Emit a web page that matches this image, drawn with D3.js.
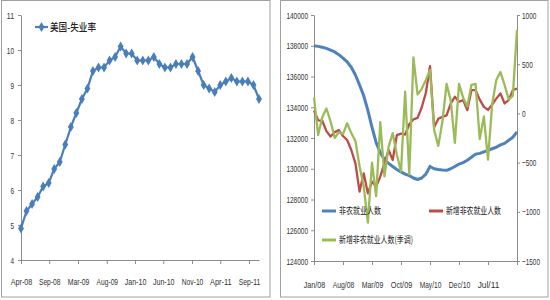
<!DOCTYPE html>
<html>
<head>
<meta charset="utf-8">
<script src="https://d3js.org/d3.v7.min.js"></script>
<style>
  body { margin: 0; background: #fff; }
  text { font-family: "Liberation Sans", "DejaVu Sans", sans-serif; }
  .cjk { font-family: "Noto Sans CJK SC", sans-serif; }
</style>
</head>
<body>
<svg id="chart" width="550" height="300"></svg>
<script>
// ---- left panel: US unemployment rate, Apr-08 .. Nov-11
var rateMonths = ["2008-04","2008-05","2008-06","2008-07","2008-08","2008-09","2008-10","2008-11","2008-12",
  "2009-01","2009-02","2009-03","2009-04","2009-05","2009-06","2009-07","2009-08","2009-09","2009-10","2009-11","2009-12",
  "2010-01","2010-02","2010-03","2010-04","2010-05","2010-06","2010-07","2010-08","2010-09","2010-10","2010-11","2010-12",
  "2011-01","2011-02","2011-03","2011-04","2011-05","2011-06","2011-07","2011-08","2011-09","2011-10","2011-11"];
var rateValues = [4.9,5.4,5.6,5.8,6.1,6.2,6.6,6.8,7.3,
  7.8,8.2,8.6,8.9,9.4,9.5,9.5,9.7,9.8,10.1,9.9,9.9,
  9.7,9.7,9.7,9.8,9.6,9.5,9.5,9.6,9.6,9.6,9.8,9.4,
  9.0,8.9,8.8,9.0,9.1,9.2,9.1,9.1,9.1,9.0,8.6];
var rateTickLabels = ["Apr-08","Sep-08","Mar-09","Aug-09","Jan-10","Jun-10","Nov-10","Apr-11","Sep-11"];
var rateTickAt = [0, 5.1, 10.3, 15.5, 20.6, 25.7, 30.9, 36, 41.2]; // month index
var rateYTicks = [4,5,6,7,8,9,10,11];
var rateName = "美国-失业率";

// ---- right panel: nonfarm payrolls, Jan/08 .. Feb/12
var nfpMonths = ["2008-01","2008-02","2008-03","2008-04","2008-05","2008-06","2008-07","2008-08","2008-09","2008-10","2008-11","2008-12",
  "2009-01","2009-02","2009-03","2009-04","2009-05","2009-06","2009-07","2009-08","2009-09","2009-10","2009-11","2009-12",
  "2010-01","2010-02","2010-03","2010-04","2010-05","2010-06","2010-07","2010-08","2010-09","2010-10","2010-11","2010-12",
  "2011-01","2011-02","2011-03","2011-04","2011-05","2011-06","2011-07","2011-08","2011-09","2011-10","2011-11","2011-12",
  "2012-01","2012-02"];
var nfpTotal = [138000,137960,137900,137830,137720,137600,137420,137200,136950,136600,136100,135450,
  134750,133800,132700,131700,131050,130600,130350,130150,129950,129800,129650,129550,
  129400,129300,129400,129650,130150,130000,129950,129920,129900,130000,130150,130300,
  130400,130550,130750,130950,131000,131100,131200,131300,131400,131550,131650,131850,
  132050,132400];
var nfpChange = [30,-70,-75,-180,-235,-190,-170,-230,-270,-372,-507,-795,
  -609,-812,-693,-744,-643,-507,-372,-473,-220,-205,-215,-110,
  -60,-45,60,210,480,-140,-55,-35,-20,100,169,118,
  135,33,236,236,140,67,35,90,150,203,101,135,
  236,253];
var nfpChangeSA = [160,-220,-40,50,-80,-250,-190,-210,-100,-200,-280,-540,
  -740,-1110,-500,-840,-90,-640,-340,-200,-420,-590,220,-620,
  570,190,250,340,440,-170,-330,-80,300,130,-300,300,
  160,70,290,300,-260,-30,-470,90,340,420,290,140,
  180,850];
var nfpTickLabels = ["Jan/08","Aug/08","Mar/09","Oct/09","May/10","Dec/10","Jul/11"];
var nfpTickAt = [0, 7, 14, 21, 28, 35, 42, 49];
var leftTicks = [124000,126000,128000,130000,132000,134000,136000,138000,140000];
var rightTicks = [-1500,-1000,-500,0,500,1000];
var nfpNames = ["非农就业人数", "新增非农就业人数", "新增非农就业人数(季调)"];

var axisColor = "#8c8c8c", textColor = "#333";
var svg = d3.select("#chart");

// panel frames
svg.append("rect").attr("x", 1.5).attr("y", 0.5).attr("width", 268.5).attr("height", 296.5)
  .attr("fill", "none").attr("stroke", "#a0a0a0");
svg.append("rect").attr("x", 280.5).attr("y", 0.5).attr("width", 267.5).attr("height", 296.5)
  .attr("fill", "none").attr("stroke", "#a0a0a0");

// excel-ish condensed labels: squeeze every label to about 3.6px per character
function styleAxis(g) {
  g.select(".domain").attr("stroke", axisColor);
  g.selectAll(".tick line").attr("stroke", axisColor);
  g.selectAll(".tick text").attr("fill", textColor).attr("font-size", 9.5)
    .each(function () {
      var t = d3.select(this), s = t.text();
      if (s.length) t.attr("textLength", s.length * 3.6).attr("lengthAdjust", "spacingAndGlyphs");
    });
}

// ================= left chart
var x1 = d3.scaleLinear().domain([0, rateValues.length - 1]).range([21, 259]);
var y1 = d3.scaleLinear().domain([4, 11]).range([260, 15]);

svg.append("g").attr("transform", "translate(21,0)")
  .call(d3.axisLeft(y1).tickValues(rateYTicks).tickFormat(d3.format("d")).tickSize(3).tickSizeOuter(0).tickPadding(4))
  .call(styleAxis);

svg.append("g").attr("transform", "translate(0,260)")
  .call(d3.axisBottom(x1).tickValues(rateTickAt).tickFormat(function (d, i) { return rateTickLabels[i]; })
    .tickSize(4).tickSizeOuter(0).tickPadding(14))
  .call(styleAxis);

var rateColor = "#4a7ebb";
svg.append("path").datum(rateValues)
  .attr("fill", "none").attr("stroke", rateColor).attr("stroke-width", 2.2)
  .attr("d", d3.line().x(function (d, i) { return x1(i); }).y(function (d) { return y1(d); }));

var diamond = d3.symbol().type(d3.symbolDiamond).size(30);
svg.append("g").selectAll("path").data(rateValues).join("path")
  .attr("d", diamond)
  .attr("transform", function (d, i) { return "translate(" + x1(i) + "," + y1(d) + ")"; })
  .attr("fill", rateColor);

// legend
var lg1 = svg.append("g");
lg1.append("line").attr("x1", 35).attr("x2", 48).attr("y1", 27).attr("y2", 27)
  .attr("stroke", rateColor).attr("stroke-width", 2.2);
lg1.append("path").attr("d", diamond).attr("transform", "translate(41.5,27)").attr("fill", rateColor);
lg1.append("text").attr("class", "cjk").attr("x", 50).attr("y", 27).attr("dy", "0.35em")
  .attr("font-size", 10.5).attr("font-weight", 500).attr("fill", "#222")
  .attr("textLength", 46).attr("lengthAdjust", "spacingAndGlyphs")
  .text(rateName);

// ================= right chart
var x2 = d3.scaleLinear().domain([0, nfpMonths.length - 1]).range([314, 517]);
var yL = d3.scaleLinear().domain([124000, 140000]).range([261, 15]);
var yR = d3.scaleLinear().domain([-1500, 1000]).range([261, 15]);

svg.append("g").attr("transform", "translate(314,0)")
  .call(d3.axisLeft(yL).tickValues(leftTicks).tickFormat(d3.format("d")).tickSize(3).tickSizeOuter(0).tickPadding(3))
  .call(styleAxis);
svg.append("g").attr("transform", "translate(517,0)")
  .call(d3.axisRight(yR).tickValues(rightTicks).tickFormat(d3.format("d")).tickSize(3).tickSizeOuter(0).tickPadding(2))
  .call(styleAxis);
svg.append("g").attr("transform", "translate(0,261)")
  .call(d3.axisBottom(x2).tickValues(nfpTickAt).tickFormat(function (d, i) { return nfpTickLabels[i] || ""; })
    .tickSize(4).tickSizeOuter(0).tickPadding(16))
  .call(styleAxis);

var blue = "#4f81bd", red = "#be4b48", green = "#9bbb59";
var lineL = d3.line().x(function (d, i) { return x2(i); }).y(function (d) { return yL(d); });
var lineR = d3.line().x(function (d, i) { return x2(i); }).y(function (d) { return yR(d); });

svg.append("path").datum(nfpTotal).attr("fill", "none").attr("stroke", blue)
  .attr("stroke-width", 3).attr("stroke-linejoin", "round").attr("d", lineL);
svg.append("path").datum(nfpChange).attr("fill", "none").attr("stroke", red)
  .attr("stroke-width", 2.3).attr("stroke-linejoin", "round").attr("d", lineR);
svg.append("path").datum(nfpChangeSA).attr("fill", "none").attr("stroke", green)
  .attr("stroke-width", 2.3).attr("stroke-linejoin", "round").attr("d", lineR);

// legends
var legendItems = [
  { name: nfpNames[0], color: blue, x: 322, y: 211, w: 42 },
  { name: nfpNames[1], color: red, x: 429, y: 211, w: 55 },
  { name: nfpNames[2], color: green, x: 322, y: 240, w: 74 }
];
var lg2 = svg.append("g").selectAll("g").data(legendItems).join("g");
lg2.append("line")
  .attr("x1", function (d) { return d.x; }).attr("x2", function (d) { return d.x + 14; })
  .attr("y1", function (d) { return d.y; }).attr("y2", function (d) { return d.y; })
  .attr("stroke", function (d) { return d.color; }).attr("stroke-width", 3);
lg2.append("text").attr("class", "cjk")
  .attr("x", function (d) { return d.x + 17; }).attr("y", function (d) { return d.y; }).attr("dy", "0.35em")
  .attr("font-size", 9.5).attr("fill", "#222")
  .attr("textLength", function (d) { return d.w; }).attr("lengthAdjust", "spacingAndGlyphs")
  .text(function (d) { return d.name; });
</script>
</body>
</html>
